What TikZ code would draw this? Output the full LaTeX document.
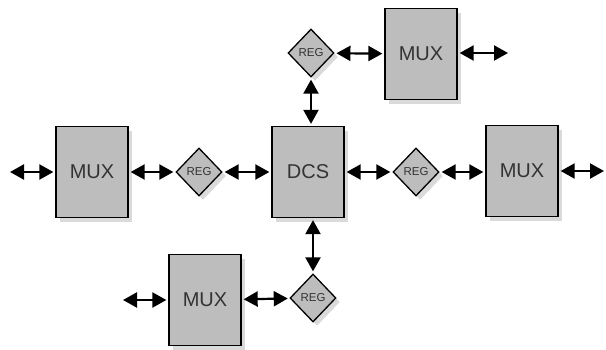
\documentclass[tikz,border=0pt]{standalone}
\usepackage{fontspec}
\setmainfont{Liberation Sans}
\usepackage{xcolor}
\definecolor{bgray}{HTML}{BDBDBD}
\definecolor{sgray}{HTML}{DADADA}
\usetikzlibrary{positioning}
\usetikzlibrary{shapes.geometric}
\usetikzlibrary{arrows.meta}
\usetikzlibrary{shadows}

\begin{document}
\begin{tikzpicture}[x=1pt,y=-1pt,
		box/.style={draw,line width=1.3pt,fill=bgray,minimum width=72pt,minimum height=91pt,text=black!80,font=\fontsize{20}{20}\selectfont,drop shadow={shadow xshift=4pt,shadow yshift=-4pt,fill=sgray,opacity=1}},
		reg/.style={draw,diamond,line width=1.3pt,fill=bgray,inner sep=0pt,minimum width=46pt,minimum height=48pt,text=black!80,font=\fontsize{11.5}{11.5}\selectfont,drop shadow={shadow xshift=4pt,shadow yshift=-4pt,fill=sgray,opacity=1}},
		link/.style={line width=2.2pt,{Triangle[length=14pt,width=15pt]}-{Triangle[length=14pt,width=15pt]},shorten <=2pt,shorten >=2pt}]
				\useasboundingbox (0,0) rectangle (606,349);
				\node[box] (dcs) at (308,172) {DCS};
				\node[box] (mux1) at (421,54) {MUX};
				\node[box] (mux2) at (92,172) {MUX};
				\node[box] (mux3) at (522,171) {MUX};
				\node[box] (mux4) at (205,300) {MUX};
				\node[reg] (reg1) at (311,53) {REG};
				\node[reg] (reg2) at (199,172) {REG};
				\node[reg] (reg3) at (416,172) {REG};
				\node[reg] (reg4) at (313,298) {REG};
				\coordinate (e1) at (510,53);
				\coordinate (e2) at (8,172);
				\coordinate (e3) at (606,171);
				\coordinate (e4) at (121,300);
				\draw (reg1) edge [link] (mux1);
				\draw (mux1.east |- e1) edge [link] (e1);
				\draw (reg1) edge [link] (dcs.north -| reg1);
				\draw (e2) edge [link] (mux2);
				\draw (mux2) edge [link] (reg2);
				\draw (reg2) edge [link] (dcs);
				\draw (dcs) edge [link] (reg3);
				\draw (reg3) edge [link] (mux3.west |- reg3);
				\draw (mux3) edge [link] (e3);
				\draw (dcs.south -| reg4) edge [link] (reg4);
				\draw (e4) edge [link] (mux4);
				\draw (mux4) edge [link] (reg4);
			\end{tikzpicture}
\end{document}
